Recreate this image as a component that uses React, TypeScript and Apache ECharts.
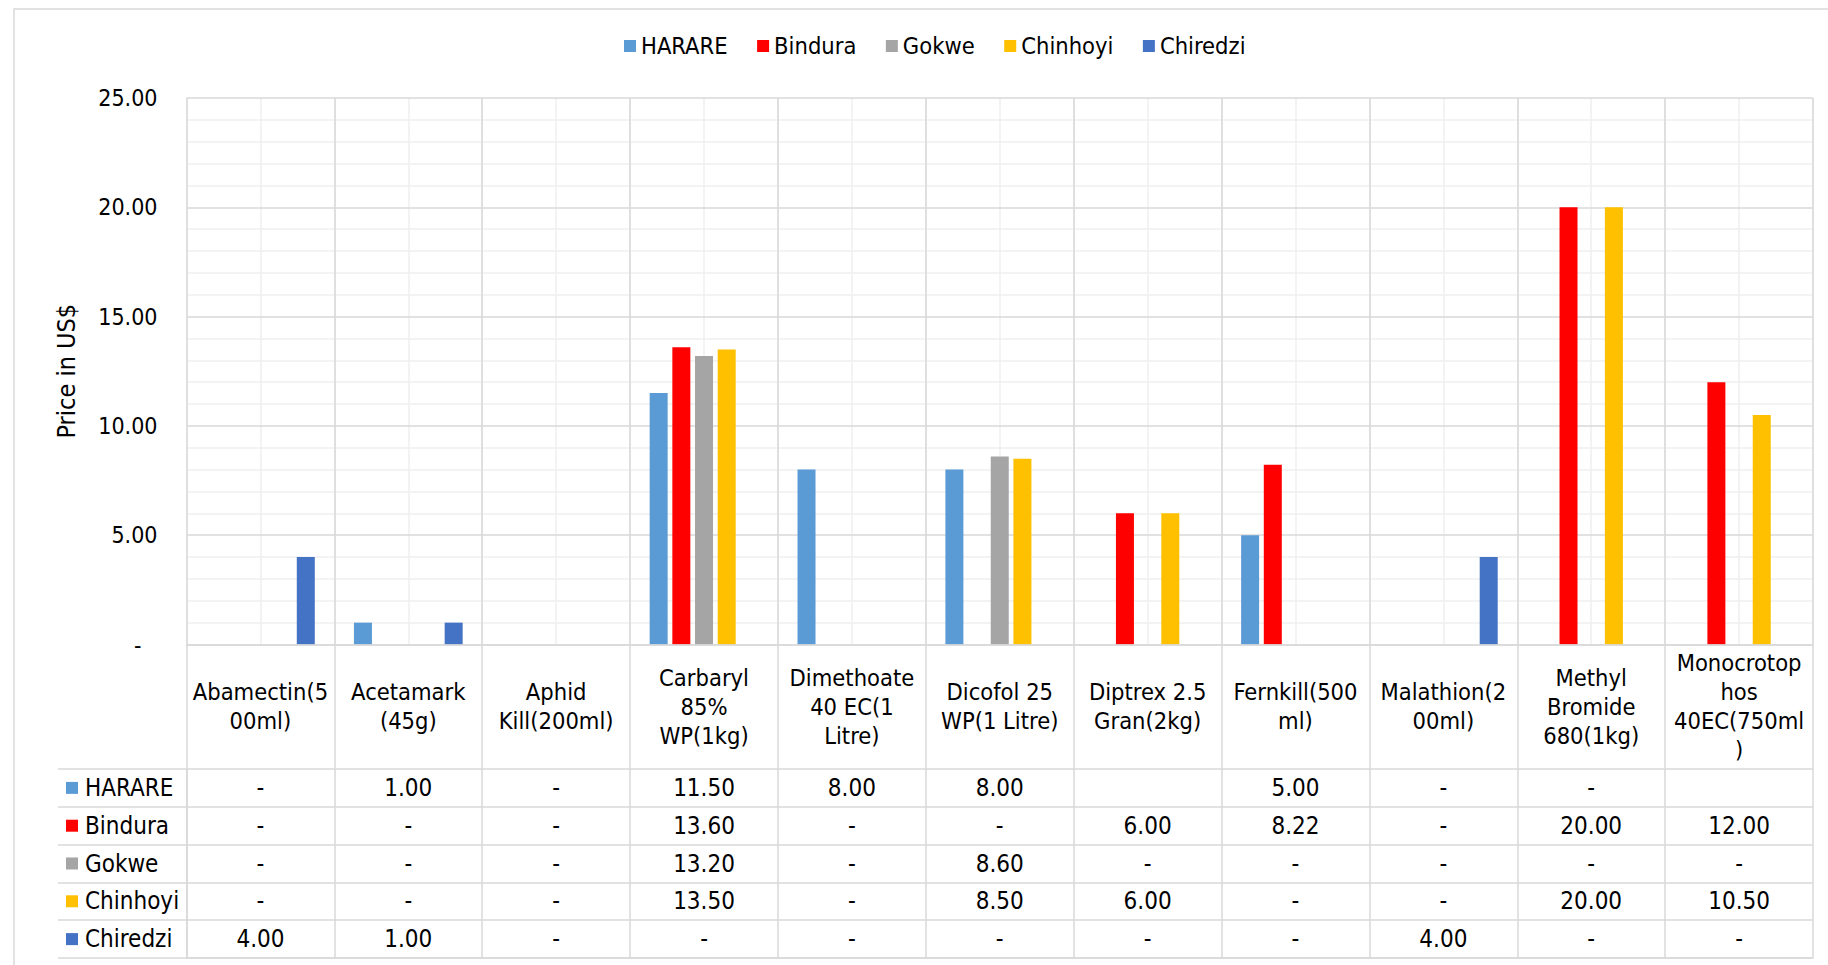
import React, { useEffect, useRef } from "react";
import * as echarts from "echarts";

const categories = [
  "Abamectin(5\n00ml)",
  "Acetamark\n(45g)",
  "Aphid\nKill(200ml)",
  "Carbaryl\n85%\nWP(1kg)",
  "Dimethoate\n40 EC(1\nLitre)",
  "Dicofol 25\nWP(1 Litre)",
  "Diptrex 2.5\nGran(2kg)",
  "Fernkill(500\nml)",
  "Malathion(2\n00ml)",
  "Methyl\nBromide\n680(1kg)",
  "Monocrotop\nhos\n40EC(750ml\n)",
];

const seriesNames = ["HARARE", "Bindura", "Gokwe", "Chinhoyi", "Chiredzi"];
const seriesColors = ["#5B9BD5", "#FF0000", "#A5A5A5", "#FFC000", "#4472C4"];

const harare = [0, 1.0, 0, 11.5, 8.0, 8.0, null, 5.0, 0, 0, null];
const bindura = [0, 0, 0, 13.6, 0, 0, 6.0, 8.22, 0, 20.0, 12.0];
const gokwe = [0, 0, 0, 13.2, 0, 8.6, 0, 0, 0, 0, 0];
const chinhoyi = [0, 0, 0, 13.5, 0, 8.5, 6.0, 0, 0, 20.0, 10.5];
const chiredzi = [4.0, 1.0, 0, 0, 0, 0, 0, 0, 4.0, 0, 0];

const seriesValues = [harare, bindura, gokwe, chinhoyi, chiredzi];

const yMin = 0;
const yMax = 25;
const yInterval = 5;

const FONT = "'DejaVu Sans Condensed', 'DejaVu Sans', sans-serif";
const FS_TICK = 23;
const FS_CAT = 23.5;
const FS_TABLE = 24;
const FS_LEGEND = 23.5;
const FS_NAME = 25;
const GRID_LINE = "#d9d9d9";
const MINOR_LINE = "#efefef";

export default function App() {
  const ref = useRef<HTMLDivElement>(null);

  useEffect(() => {
    if (!ref.current) return;
    const chart = echarts.init(ref.current, null, { renderer: "svg" });
    const n = categories.length;

    const tableData: number[][] = [];
    seriesValues.forEach((arr, s) => {
      arr.forEach((_v, c) => tableData.push([c, s]));
    });

    const rich: Record<string, any> = {
      t: { fontSize: FS_TABLE, fontFamily: FONT, color: "#000", padding: [0, 0, 0, 7] },
    };
    seriesColors.forEach((c, i) => {
      rich["m" + i] = { width: 12, height: 12, backgroundColor: c };
    });

    const option: any = {
      animation: false,
      backgroundColor: "#fff",
      textStyle: { fontFamily: FONT },
      legend: {
        data: seriesNames,
        left: 624,
        top: 34,
        padding: 0,
        itemWidth: 12,
        itemHeight: 12,
        itemGap: 29.5,
        icon: "rect",
        textStyle: { fontSize: FS_LEGEND, fontFamily: FONT, color: "#000" },
      },
      graphic: [
        {
          type: "rect",
          silent: true,
          z: -10,
          shape: { x: 14, y: 9, width: 2000, height: 2000 },
          style: { fill: "none", stroke: GRID_LINE, lineWidth: 1.5 },
        },
      ],
      grid: [
        { left: 186.5, top: 98, width: 1626.5, height: 546.5, outerBoundsMode: "none", containLabel: false },
        { left: 186.5, top: 769, width: 1626.5, height: 189, outerBoundsMode: "none", containLabel: false },
      ],
      xAxis: [
        {
          type: "category",
          gridIndex: 0,
          data: categories,
          position: "bottom",
          z: 3,
          axisLine: { show: true, lineStyle: { color: GRID_LINE, width: 1.5 } },
          axisTick: { show: true, length: 124.5, lineStyle: { color: GRID_LINE, width: 1.5 } },
          splitLine: { show: true, lineStyle: { color: GRID_LINE, width: 1.5 } },
          axisLabel: {
            interval: 0,
            margin: 62,
            verticalAlign: "middle",
            align: "center",
            lineHeight: 29,
            fontSize: FS_CAT,
            fontFamily: FONT,
            color: "#000",
          },
        },
        {
          type: "value",
          gridIndex: 0,
          min: 0,
          max: 22,
          interval: 1,
          position: "top",
          z: 0,
          axisLine: { show: false },
          axisTick: { show: false },
          axisLabel: { show: false },
          splitLine: { show: true, lineStyle: { color: MINOR_LINE, width: 1.5 } },
        },
        {
          type: "category",
          gridIndex: 1,
          data: categories,
          position: "bottom",
          axisLine: { show: true, lineStyle: { color: GRID_LINE, width: 1.5 } },
          axisTick: { show: false },
          axisLabel: { show: false },
          splitLine: { show: true, lineStyle: { color: GRID_LINE, width: 1.5 } },
        },
      ],
      yAxis: [
        {
          type: "value",
          gridIndex: 0,
          min: yMin,
          max: yMax,
          interval: yInterval,
          z: 1,
          name: "Price in US$",
          nameLocation: "middle",
          nameGap: 108,
          nameTextStyle: { fontSize: FS_NAME, fontFamily: FONT, color: "#000" },
          axisLine: { show: false },
          axisTick: { show: false },
          axisLabel: {
            margin: 29,
            fontSize: FS_TICK,
            fontFamily: FONT,
            color: "#000",
            formatter: (v: number) => (v === 0 ? "{d|-}" : v.toFixed(2)),
            rich: { d: { fontSize: FS_TICK, fontFamily: FONT, color: "#000", padding: [0, 16, 0, 0] } },
          },
          splitLine: { show: true, lineStyle: { color: GRID_LINE, width: 1.5 } },
          minorTick: { show: false, splitNumber: 5 },
          minorSplitLine: { show: true, lineStyle: { color: MINOR_LINE, width: 1.5 } },
        },
        {
          type: "category",
          gridIndex: 1,
          data: seriesNames,
          inverse: true,
          axisLine: { show: true, lineStyle: { color: GRID_LINE, width: 1.5 } },
          axisTick: { show: true, length: 128.5, lineStyle: { color: GRID_LINE, width: 1.5 } },
          splitLine: { show: true, lineStyle: { color: GRID_LINE, width: 1.5 } },
          axisLabel: {
            align: "left",
            margin: 120.5,
            formatter: (value: string, index: number) => `{m${index}|}{t|${value}}`,
            rich,
          },
        },
        {
          type: "category",
          gridIndex: 1,
          data: seriesNames,
          inverse: true,
          offset: 128.5,
          axisLine: { show: true, lineStyle: { color: GRID_LINE, width: 1.5 } },
          axisTick: { show: false },
          axisLabel: { show: false },
          splitLine: { show: false },
        },
      ],
      series: [
        ...seriesNames.map((name, i) => ({
          name,
          type: "bar",
          xAxisIndex: 0,
          yAxisIndex: 0,
          barWidth: 18,
          barGap: "26%",
          itemStyle: { color: seriesColors[i] },
          data: seriesValues[i],
        })),
        {
          type: "custom",
          xAxisIndex: 2,
          yAxisIndex: 1,
          data: tableData,
          silent: true,
          renderItem: (params: any, api: any) => {
            const idx = params.dataIndex;
            const s = Math.floor(idx / n);
            const c = idx % n;
            const v = seriesValues[s][c];
            const text = v === null ? "" : v === 0 ? "-" : v.toFixed(2);
            const pt = api.coord([c, s]);
            return {
              type: "text",
              x: pt[0],
              y: pt[1],
              style: {
                text,
                fill: "#000",
                fontSize: FS_TABLE,
                fontFamily: FONT,
                align: "center",
                verticalAlign: "middle",
                textAlign: "center",
                textVerticalAlign: "middle",
              },
            };
          },
        },
      ],
    };

    chart.setOption(option);
    return () => chart.dispose();
  }, []);

  return (
    <div
      ref={ref}
      style={{ position: "absolute", left: 0, top: 0, width: 1828, height: 965 }}
    />
  );
}
